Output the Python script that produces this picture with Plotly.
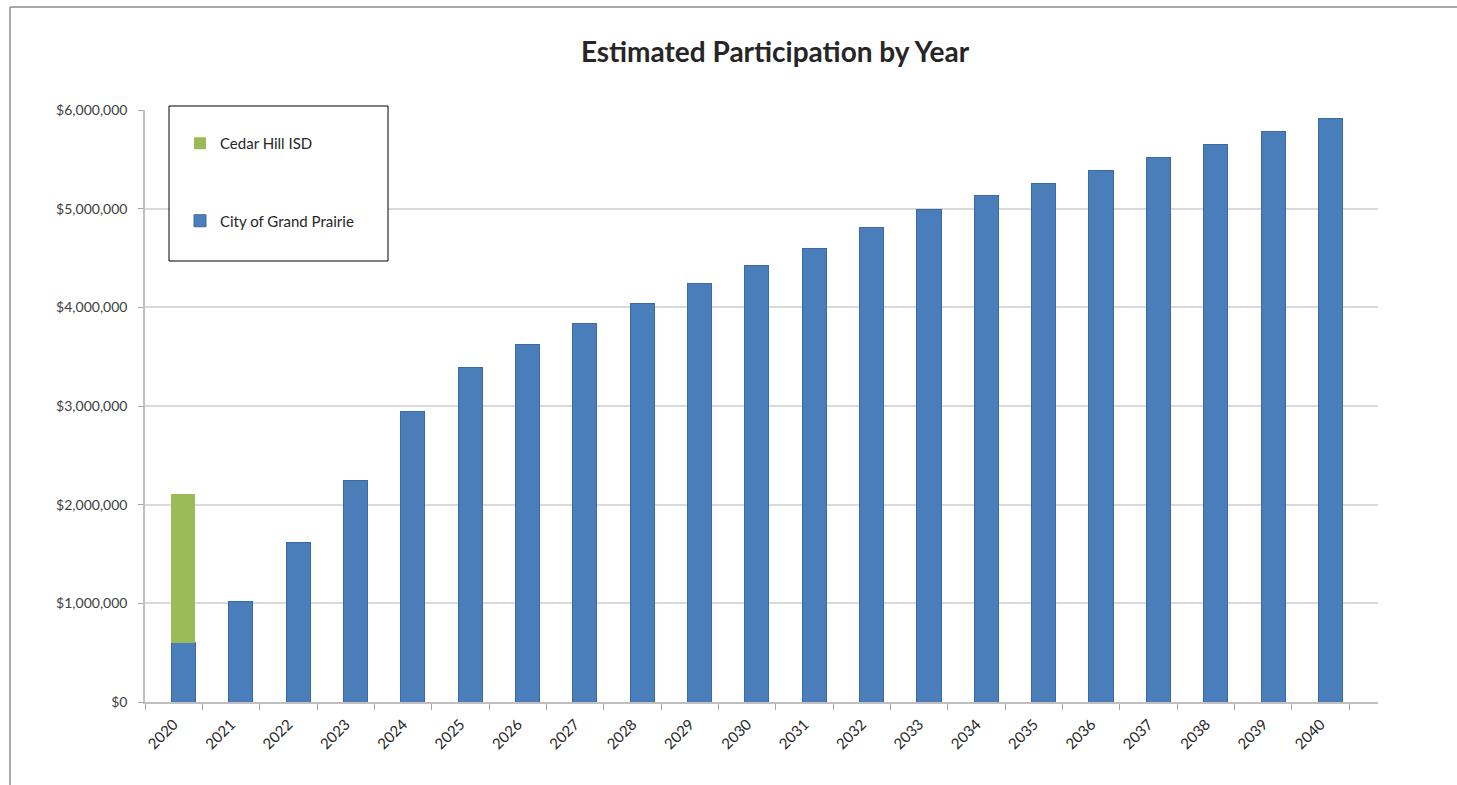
import plotly.graph_objects as go

years = [str(y) for y in range(2020, 2041)]
grand_prairie = [600000, 1020000, 1620000, 2240000, 2940000, 3390000, 3620000, 3840000,
                 4040000, 4240000, 4420000, 4600000, 4810000, 4990000, 5130000, 5260000,
                 5390000, 5520000, 5650000, 5780000, 5910000]
cedar_hill = [1510000] + [0] * 20
y_ticks = [0, 1000000, 2000000, 3000000, 4000000, 5000000, 6000000]
y_tick_labels = ["$0", "$1,000,000", "$2,000,000", "$3,000,000", "$4,000,000",
                 "$5,000,000", "$6,000,000"]

W, H = 1457, 785
L, R, T, B = 145, 1378, 110, 702

def px(x):
    return (x - L) / (R - L)

def py(y):
    return (B - y) / (B - T)

FONT = "Lato"
fig = go.Figure()
fig.add_trace(go.Bar(x=years, y=grand_prairie, name="City of Grand Prairie",
                     marker=dict(color="#4a7ebb", line=dict(color="#3b6aa3", width=1)),
                     width=0.42, offset=-0.04, legendgroup="a", legendrank=2))
fig.add_trace(go.Bar(x=years, y=cedar_hill, name="Cedar Hill ISD",
                     marker=dict(color="#9bbb59", line=dict(width=0)),
                     width=0.42, offset=-0.04, legendgroup="b", legendrank=1))

shapes = [
    # chart border (left and top)
    dict(type="line", xref="paper", yref="paper", x0=px(10), x1=px(10), y0=py(7), y1=py(790),
         line=dict(color="#8c8c8c", width=1.5)),
    dict(type="line", xref="paper", yref="paper", x0=px(10), x1=px(1460), y0=py(7), y1=py(7),
         line=dict(color="#8c8c8c", width=1.5)),
    # legend box
    dict(type="rect", xref="paper", yref="paper", x0=px(169), x1=px(388), y0=py(261), y1=py(106),
         line=dict(color="black", width=1), fillcolor="white", layer="above"),
]

fig.update_layout(
    width=W, height=H,
    margin=dict(l=L, r=W - R, t=T, b=H - B),
    paper_bgcolor="white", plot_bgcolor="white",
    barmode="stack",
    font=dict(family=FONT, color="#404040", size=14),
    title=dict(text="<b>Estimated Participation by Year</b>", xref="container", x=775 / W,
               xanchor="center", y=1 - 52 / H, yanchor="middle",
               font=dict(size=28, color="#262626", family=FONT)),
    showlegend=True,
    legend=dict(x=px(180), y=py(127), xanchor="left", yanchor="top",
                bgcolor="rgba(0,0,0,0)", borderwidth=0, tracegroupgap=55,
                font=dict(size=15, color="#262626", family=FONT), traceorder="grouped"),
    shapes=shapes,
    xaxis=dict(type="category", range=[-0.5, 21.0], tickangle=-45, tickson="boundaries",
               ticks="outside", ticklen=6, tickcolor="#a6a6a6", showline=True,
               linecolor="#bfbfbf", linewidth=1.5, showgrid=False, ticklabelstandoff=6,
               tickfont=dict(size=15, color="#262626")),
    yaxis=dict(range=[0, 6000000], tickvals=y_ticks, ticktext=y_tick_labels,
               ticks="outside", ticklen=5, tickcolor="#a6a6a6", showline=True,
               linecolor="#bfbfbf", linewidth=1.5, showgrid=True, gridcolor="#d9d9d9",
               gridwidth=2, zeroline=False, ticklabelstandoff=8,
               tickfont=dict(size=14, color="#404040")),
)

fig.write_html("out.html")
